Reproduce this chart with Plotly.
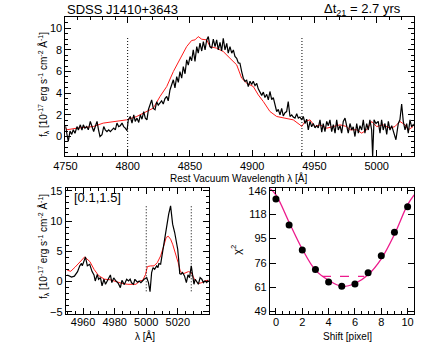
import plotly.graph_objects as go

# top panel: H-beta region, black = epoch 2, red = epoch 1
top_wave = [4750.0, 4751.0, 4752.3, 4753.7, 4755.1, 4756.3, 4757.7, 4759.3, 4760.4, 4762.0,
            4763.3, 4764.4, 4765.7, 4767.1, 4768.4, 4770.0, 4771.4, 4772.7, 4774.0, 4775.4,
            4776.6, 4777.8, 4779.4, 4780.8, 4782.0, 4783.4, 4784.8, 4786.1, 4787.4, 4788.8,
            4790.1, 4791.4, 4792.8, 4794.1, 4795.5, 4796.8, 4798.1, 4799.5, 4800.5, 4802.1,
            4803.5, 4804.9, 4806.1, 4807.5, 4808.9, 4810.2, 4811.5, 4812.9, 4814.2, 4815.5,
            4816.7, 4818.0, 4819.3, 4820.6, 4822.0, 4823.3, 4824.6, 4826.0, 4827.3, 4828.6,
            4830.0, 4831.4, 4832.6, 4834.0, 4835.4, 4836.7, 4838.0, 4839.4, 4840.7, 4842.0,
            4843.4, 4844.7, 4846.1, 4847.4, 4848.7, 4850.1, 4851.4, 4852.7, 4854.1, 4855.5,
            4856.7, 4858.1, 4859.5, 4860.8, 4862.2, 4863.5, 4864.8, 4866.1, 4867.5, 4868.8,
            4870.2, 4871.5, 4872.8, 4874.2, 4875.5, 4876.8, 4878.2, 4879.6, 4880.8, 4882.2,
            4883.6, 4884.9, 4886.2, 4887.6, 4888.9, 4890.2, 4891.6, 4892.9, 4894.3, 4895.6,
            4896.9, 4898.3, 4899.6, 4900.9, 4902.3, 4903.7, 4904.9, 4906.3, 4907.7, 4909.0,
            4910.3, 4911.7, 4913.0, 4914.3, 4915.7, 4917.0, 4918.4, 4919.7, 4921.0, 4922.4,
            4923.7, 4925.0, 4926.4, 4927.7, 4929.0, 4930.4, 4931.8, 4933.0, 4934.4, 4935.8,
            4937.1, 4938.4, 4939.8, 4941.1, 4942.5, 4943.8, 4945.1, 4946.5, 4947.8, 4949.1,
            4950.5, 4951.8, 4953.1, 4954.5, 4955.9, 4957.1, 4958.5, 4959.9, 4961.2, 4962.5,
            4963.9, 4965.2, 4966.6, 4967.9, 4969.2, 4970.6, 4971.9, 4973.2, 4974.6, 4976.0,
            4977.2, 4978.6, 4980.0, 4981.2, 4982.6, 4984.0, 4985.3, 4986.6, 4988.0, 4989.3,
            4990.6, 4992.0, 4993.3, 4994.6, 4996.0, 4996.8, 4997.9, 4999.5, 5001.3, 5002.7,
            5004.0, 5005.3, 5006.7, 5008.1, 5009.4, 5010.7, 5012.1, 5013.4, 5015.5, 5017.4,
            5018.7, 5020.1, 5021.4, 5022.8, 5024.1, 5025.4, 5026.8, 5028.1, 5029.4, 5030.0]
top_flux2 = [1.0, 0.31, -0.46, 0.5, 0.2, 0.62, 0.3, 0.92, 0.6, 1.08,
             0.6, 1.08, 0.77, 0.92, 0.62, 1.39, 0.77, 0.46, 0.92, 1.39,
             0.62, 0.0, 0.16, 0.92, 0.62, 0.46, 0.62, 0.46, 0.62, 0.77,
             0.62, 1.24, 0.92, 1.0, 1.24, 0.92, 0.77, 0.53, 1.54, 1.85,
             1.24, 2.0, 1.4, 1.7, 1.3, 2.0, 1.6, 2.3, 1.7, 1.54,
             2.5, 3.08, 3.39, 2.6, 2.47, 3.2, 2.9, 3.1, 3.3, 3.0,
             3.5, 3.7, 3.3, 4.3, 4.77, 5.24, 4.5, 5.54, 5.0, 6.0,
             5.4, 6.46, 5.8, 7.08, 6.6, 7.39, 7.0, 8.0, 6.93, 8.31,
             7.7, 8.62, 7.9, 8.77, 8.0, 8.93, 9.23, 8.3, 8.16, 9.0,
             8.3, 8.93, 8.0, 8.7, 7.9, 9.08, 8.0, 8.6, 7.7, 8.3,
             7.7, 8.0, 7.4, 7.23, 6.8, 6.77, 6.0, 5.39, 5.1, 5.2,
             4.62, 5.1, 4.8, 5.1, 4.7, 4.9, 4.4, 4.16, 3.8, 4.1,
             3.6, 3.9, 3.39, 4.16, 3.4, 3.6, 3.0, 2.31, 2.5, 2.0,
             2.6, 1.9, 2.2, 2.3, 3.23, 1.85, 2.0, 1.8, 1.7, 2.1,
             1.7, 1.8, 1.54, 1.85, 1.2, 1.6, 0.62, 1.4, 0.9, 1.2,
             0.8, 1.0, 0.8, 1.54, 0.4, 1.2, 0.46, 1.4, 1.0, 1.54,
             0.46, 1.1, 0.31, 1.54, 0.6, 1.0, 0.31, 1.4, 1.7, 0.9,
             0.31, 1.2, 0.6, 0.9, 0.0, 1.2, 0.31, 1.0, 0.6, 1.54,
             0.31, 1.2, 0.6, 1.54, 0.6, -1.85, 1.54, 1.2, 1.4, 0.31,
             1.54, 0.6, 1.2, 0.2, 1.4, 0.6, 1.0, 0.5, -0.3, 1.2,
             1.54, 3.0, 1.4, 0.62, 1.2, 0.31, 1.54, 0.9, 1.1, 1.0]
top_wave1 = [4750.0, 4751.0, 4759.1, 4772.4, 4780.4, 4788.5, 4799.2, 4807.3, 4815.3, 4820.6,
             4826.0, 4831.4, 4836.7, 4842.0, 4847.4, 4851.4, 4854.1, 4856.7, 4859.5, 4863.5,
             4866.1, 4871.5, 4876.8, 4882.2, 4887.6, 4891.6, 4895.6, 4900.9, 4904.9, 4909.0,
             4914.3, 4919.7, 4927.7, 4933.0, 4938.4, 4939.8, 4942.5, 4946.5, 4950.5, 4954.5,
             4959.9, 4965.2, 4970.6, 4976.0, 4978.6, 4984.0, 4988.0, 4992.0, 4996.0, 5000.0,
             5005.3, 5010.7, 5014.7, 5018.7, 5022.8, 5025.4, 5029.4]
top_flux1 = [0.85, 0.62, 0.77, 0.92, 1.24, 1.39, 1.54, 1.85, 2.31, 2.62,
             3.7, 4.62, 6.0, 7.08, 8.31, 8.87, 8.93, 9.23, 8.99, 8.93,
             8.31, 8.16, 7.85, 7.23, 6.62, 5.39, 4.93, 4.62, 3.85, 3.23,
             2.31, 1.85, 1.7, 1.54, 1.08, 0.92, 1.39, 1.54, 0.92, 1.08,
             0.77, 0.92, 1.08, 0.92, 0.62, 0.62, 0.31, 0.62, 1.39, 0.92,
             1.08, 0.77, 0.92, 1.39, 1.08, 0.62, 0.92]
top_window = [4800, 4940]

# bottom left: [OIII] region
oiii_wave2 = [4950.0, 4952.7, 4954.5, 4956.5, 4957.9, 4959.0, 4959.5, 4960.4, 4961.5, 4962.7,
              4964.2, 4965.7, 4966.9, 4967.7, 4969.0, 4969.8, 4971.0, 4972.0, 4973.2, 4974.2,
              4975.6, 4977.3, 4978.2, 4979.4, 4980.8, 4982.3, 4983.6, 4984.6, 4986.1, 4987.6,
              4988.8, 4989.8, 4990.7, 4991.9, 4992.8, 4994.4, 4995.5, 4996.6, 4998.6, 5000.3,
              5001.4, 5002.4, 5003.4, 5004.3, 5005.3, 5006.6, 5007.4, 5008.0, 5009.1, 5009.7,
              5010.5, 5011.7, 5012.9, 5013.6, 5014.2, 5015.4, 5015.9, 5016.7, 5018.0, 5018.9,
              5019.9, 5020.5, 5021.2, 5022.0, 5023.0, 5024.2, 5025.4, 5026.4, 5027.4, 5028.5,
              5029.2, 5030.2, 5031.0, 5032.0, 5033.0, 5034.1, 5035.2, 5036.2, 5037.2, 5038.3,
              5039.3]
oiii_flux2 = [1.1, 0.76, 0.9, 1.65, 2.6, 3.0, 2.6, 3.4, 4.07, 2.6,
              2.85, 1.65, 1.1, 0.1, 1.2, 0.38, 0.66, -0.72, 0.38, -0.45,
              0.38, 1.1, -0.17, 0.6, 0.1, -0.3, -1.0, 0.2, -0.5, 0.38,
              0.1, 0.4, -0.2, -0.45, 0.38, -0.1, 0.1, -0.17, 0.39, 0.66,
              -0.17, -1.65, 1.49, 2.31, 2.04, 2.59, 2.31, 2.98, 2.87, 3.86,
              5.07, 6.45, 8.93, 9.59, 11.13, 12.5, 11.4, 9.48, 8.1, 6.72,
              5.34, 3.69, 1.32, 1.21, 1.49, 0.94, -0.17, 1.1, 0.66, 2.59,
              0.94, -0.44, 0.39, 0.0, -0.44, 0.66, 0.39, -0.17, 0.11, -0.17,
              0.22]
oiii_wave1 = [4950.0, 4952.2, 4955.0, 4957.8, 4961.0, 4964.3, 4967.0, 4969.8, 4973.5, 4977.2,
              4980.9, 4984.6, 4988.3, 4993.4, 4996.6, 4997.6, 4999.6, 5000.7, 5002.8, 5004.9,
              5007.0, 5009.1, 5011.1, 5012.6, 5013.9, 5015.4, 5016.7, 5018.4, 5020.2, 5021.6,
              5023.7, 5026.7, 5028.5, 5030.5, 5033.0, 5035.2, 5037.2, 5039.3]
oiii_flux1 = [1.87, 1.7, 2.4, 3.2, 4.07, 3.3, 2.0, 1.0, 0.4, 0.3,
              0.0, -0.3, -0.45, -0.45, 0.2, 0.11, 1.21, 2.48, 2.59, 2.59,
              3.14, 4.24, 5.9, 7.27, 7.49, 7.0, 6.17, 4.79, 3.14, 1.65,
              1.32, 1.65, 1.49, 0.39, -0.33, -0.17, 0.11, 0.22]
oiii_window = [5000, 5028.5]

# bottom right: chi^2 vs pixel shift
shift = [0, 1, 2, 3, 4, 5, 6, 7, 8, 9, 10]
chi2 = [135.7, 107.3, 85.5, 71.8, 64.0, 61.6, 62.9, 69.7, 81.2, 100.6, 126.6]
fit_shift = [-0.5, 0, 1, 2, 3, 4, 5, 6, 7, 8, 9, 10, 10.5]
fit_chi2 = [150, 141, 110, 86.3, 71.3, 65.0, 61.6, 63.2, 68.4, 79.0, 98.5, 129, 141]
conf_shift = [3.5, 6.7]
conf_chi2 = [67.4, 67.4]
chi2_ticks = [49, 61, 76, 95, 118, 146]

MAG = '#ec1b8c'
FONT = 'Liberation Sans'
DOT = '1px,2px'
FLUX_TITLE = 'f<sub>λ</sub> [10<sup>-17</sup> erg s<sup>-1</sup> cm<sup>-2</sup> Å<sup>-1</sup>]'

fig = go.Figure()

fig.add_trace(go.Scatter(x=top_wave1, y=top_flux1, mode='lines', line=dict(color='#ff1a1a', width=1),
                         xaxis='x', yaxis='y'))
fig.add_trace(go.Scatter(x=top_wave, y=top_flux2, mode='lines', line=dict(color='black', width=1.2),
                         xaxis='x', yaxis='y'))
for w in top_window:
    fig.add_trace(go.Scatter(x=[w, w], y=[-1.8, 9.2], mode='lines',
                             line=dict(color='black', width=1, dash=DOT), xaxis='x', yaxis='y'))

fig.add_trace(go.Scatter(x=oiii_wave1, y=oiii_flux1, mode='lines', line=dict(color='#ff1a1a', width=1),
                         xaxis='x2', yaxis='y2'))
fig.add_trace(go.Scatter(x=oiii_wave2, y=oiii_flux2, mode='lines', line=dict(color='black', width=1.2),
                         xaxis='x2', yaxis='y2'))
for w in oiii_window:
    fig.add_trace(go.Scatter(x=[w, w], y=[-1.6, 12.5], mode='lines',
                             line=dict(color='black', width=1, dash=DOT), xaxis='x2', yaxis='y2'))

fig.add_trace(go.Scatter(x=fit_shift, y=fit_chi2, mode='lines', line=dict(color=MAG, width=1.3, shape='spline'),
                         xaxis='x3', yaxis='y3'))
fig.add_trace(go.Scatter(x=conf_shift, y=conf_chi2, mode='lines', line=dict(color=MAG, width=1.3, dash='dash'),
                         xaxis='x3', yaxis='y3'))
fig.add_trace(go.Scatter(x=shift, y=chi2, mode='markers', marker=dict(color='black', size=7),
                         xaxis='x3', yaxis='y3'))

ax = dict(showline=True, linecolor='black', linewidth=1, mirror='allticks', ticks='inside',
          ticklen=6, tickcolor='black', showgrid=False, zeroline=False, automargin=False,
          tickfont=dict(size=11, color='black', family=FONT))


def label(text, x, y, angle=0, size=10, color='black'):
    return dict(text=text, x=x, y=y, xref='paper', yref='paper', xanchor='center', yanchor='middle',
                textangle=angle, showarrow=False, font=dict(size=size, color=color, family=FONT))


fig.update_layout(
    width=436, height=349, margin=dict(l=0, r=0, t=0, b=0),
    paper_bgcolor='white', plot_bgcolor='white', showlegend=False,
    font=dict(family=FONT, color='black'),
    xaxis=dict(ax, domain=[0.150, 0.9495], range=[4750, 5030], dtick=50, tick0=4750,
               minor=dict(ticks='inside', ticklen=3, dtick=10, tickcolor='black'), anchor='y'),
    yaxis=dict(ax, domain=[0.553, 0.95], range=[-1.8, 11], dtick=2, tick0=0,
               minor=dict(ticks='inside', ticklen=3, dtick=0.5, tickcolor='black'), anchor='x'),
    xaxis2=dict(ax, domain=[0.1507, 0.480], range=[4949, 5039.9], dtick=20, tick0=4960,
                ticklabelstandoff=-3,
                minor=dict(ticks='inside', ticklen=3, dtick=5, tickcolor='black'), anchor='y2'),
    yaxis2=dict(ax, domain=[0.0994, 0.4605], range=[-5.4, 15.4], dtick=5, tick0=0,
                minor=dict(ticks='inside', ticklen=3, dtick=1, tickcolor='black'), anchor='x2'),
    xaxis3=dict(ax, domain=[0.619, 0.950], range=[-0.46, 10.5], dtick=2, tick0=0,
                ticklabelstandoff=-3,
                minor=dict(ticks='inside', ticklen=3, dtick=0.5, tickcolor='black'), anchor='y3'),
    yaxis3=dict(ax, domain=[0.0994, 0.4605], type='log', range=[1.6795, 2.175],
                tickvals=chi2_ticks, ticktext=[str(v) for v in chi2_ticks], anchor='x3'),
    annotations=[
        label('Rest Vacuum Wavelength λ [Å]', 0.548, 0.490),
        label(FLUX_TITLE, 0.0986, 0.759, angle=-90),
        label('λ [Å]', 0.3326, 0.038),
        label(FLUX_TITLE, 0.0986, 0.295, angle=-90),
        label('Shift [pixel]', 0.796, 0.036),
        label('χ<sup>2</sup>', 0.541, 0.284, angle=-90, size=11),
        dict(text='SDSS J1410+3643', x=0.150, y=0.972, xref='paper', yref='paper', xanchor='left',
             yanchor='middle', showarrow=False, font=dict(size=13, color='black', family=FONT)),
        dict(text='Δt<sub>21</sub> = 2.7 yrs', x=0.925, y=0.972, xref='paper', yref='paper', xanchor='right',
             yanchor='middle', showarrow=False, font=dict(size=13, color='black', family=FONT)),
        dict(text='[0.1,1.5]', x=4969, y=13.8, xref='x2', yref='y2', xanchor='center', yanchor='middle',
             showarrow=False, font=dict(size=13, color='black', family=FONT)),
        dict(text='[3.5,6.7]', x=4.0, y=134.5, xref='x3', yref='y3', xanchor='center', yanchor='middle',
             showarrow=False, font=dict(size=13, color=MAG, family=FONT)),
        dict(text='χ<sup>2</sup><sub>min</sub>=61.6', x=0.56, y=52.8, xref='x3', yref='y3', xanchor='left',
             yanchor='middle', showarrow=False, font=dict(size=13, color=MAG, family=FONT)),
    ],
)

# the page's default 8px body margin would shift the figure
fig.write_html('out.html', config={'displayModeBar': False},
               post_script="document.body.style.margin='0';")
